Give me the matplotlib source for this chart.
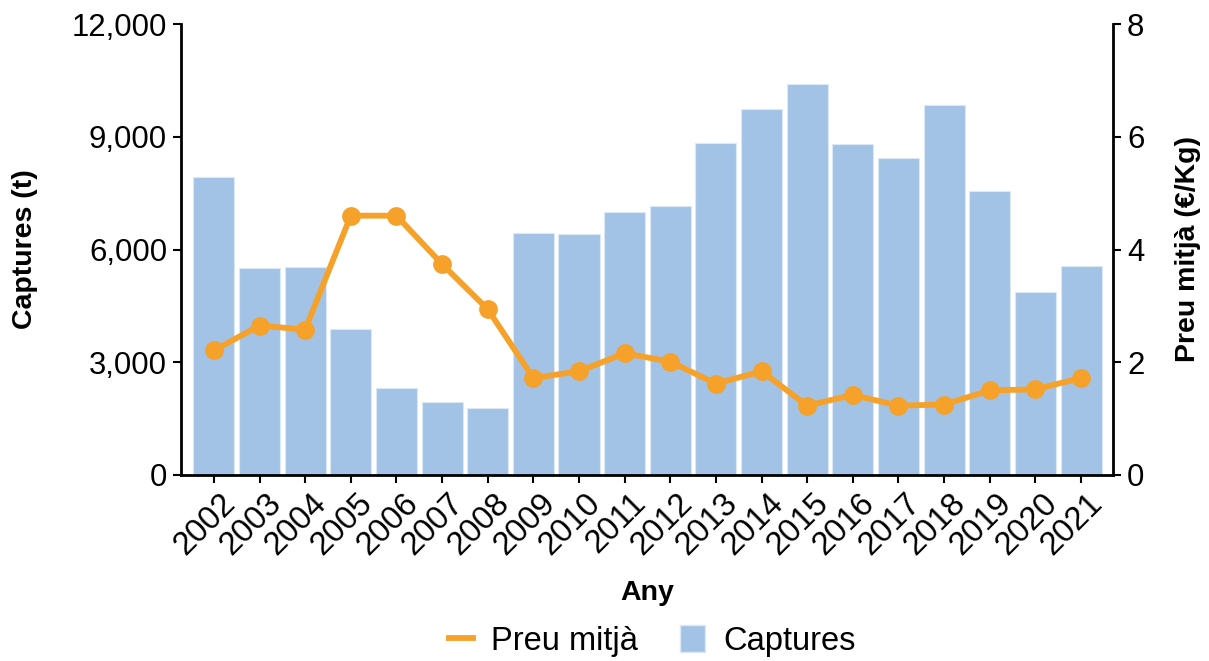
import matplotlib.pyplot as plt
import numpy as np
from matplotlib.lines import Line2D
from matplotlib.patches import Patch
from matplotlib.ticker import FuncFormatter
from matplotlib.transforms import ScaledTranslation

plt.rcParams["font.family"] = ["Liberation Sans", "DejaVu Sans"]

years = [str(y) for y in range(2002, 2022)]
captures = [7920, 5510, 5547, 3875, 2310, 1947, 1787, 6443, 6408, 6995,
            7155, 8827, 9733, 10400, 8816, 8443, 9840, 7547, 4880, 5555]
price = [2.21, 2.65, 2.58, 4.60, 4.60, 3.74, 2.94, 1.72, 1.84, 2.16,
         2.01, 1.62, 1.84, 1.23, 1.42, 1.23, 1.25, 1.50, 1.52, 1.72]

BAR_COLOR = "#a3c3e6"
LINE_COLOR = "#f6a12a"

fig = plt.figure(figsize=(12.09, 6.61), dpi=100)
ax = fig.add_axes([181 / 1209, 1 - 475 / 661, (1113 - 181) / 1209, (475 - 24) / 661])
x = np.arange(len(years))

ax.bar(x, captures, width=0.9, color=BAR_COLOR, edgecolor="#dde8f5", linewidth=0.8, zorder=1)
ax.set_ylim(0, 12000)
ax.set_yticks([0, 3000, 6000, 9000, 12000])
ax.yaxis.set_major_formatter(FuncFormatter(lambda v, _: f"{v:,.0f}"))
ax.set_xlim(-0.72, len(years) - 0.3)
ax.set_xticks(x)
ax.set_xticklabels(years, rotation=45, ha="right", rotation_mode="anchor")

ax2 = ax.twinx()
ax2.plot(x, price, color=LINE_COLOR, linewidth=4.2, marker="o", markersize=12.5, zorder=3)
ax2.set_ylim(0, 8)
ax2.set_yticks([0, 2, 4, 6, 8])

for a in (ax, ax2):
    a.tick_params(labelsize=22.4, width=1.5, length=6, direction="out", pad=4)
    for s in a.spines.values():
        s.set_linewidth(2)
    a.spines["top"].set_visible(False)
ax.spines["right"].set_visible(False)
ax2.spines["left"].set_visible(False)
ax2.spines["bottom"].set_visible(False)
ax.tick_params(axis="x", labelsize=23.5, pad=3)

# nudge rotated year labels a little to the right, as in the original
shift = ScaledTranslation(0.06, 0, fig.dpi_scale_trans)
for lab in ax.get_xticklabels():
    lab.set_transform(lab.get_transform() + shift)

ax.set_ylabel("Captures (t)", fontsize=20.5, fontweight="bold", labelpad=24)
ax2.set_ylabel("Preu mitjà (€/Kg)", fontsize=20.5, fontweight="bold", labelpad=22)
ax.set_xlabel("Any", fontsize=20.5, fontweight="bold", labelpad=14)

handles = [Line2D([0], [0], color=LINE_COLOR, linewidth=4.2),
           Patch(facecolor=BAR_COLOR, edgecolor="#dde8f5")]
fig.legend(handles, ["Preu mitjà", "Captures"], loc="center", bbox_to_anchor=(652 / 1209, 1 - 641 / 661),
           ncol=2, frameon=False, fontsize=23.5, handlelength=0.75, handleheight=0.9,
           handletextpad=0.55, columnspacing=1.3)

fig.savefig("out.png", dpi=100)
